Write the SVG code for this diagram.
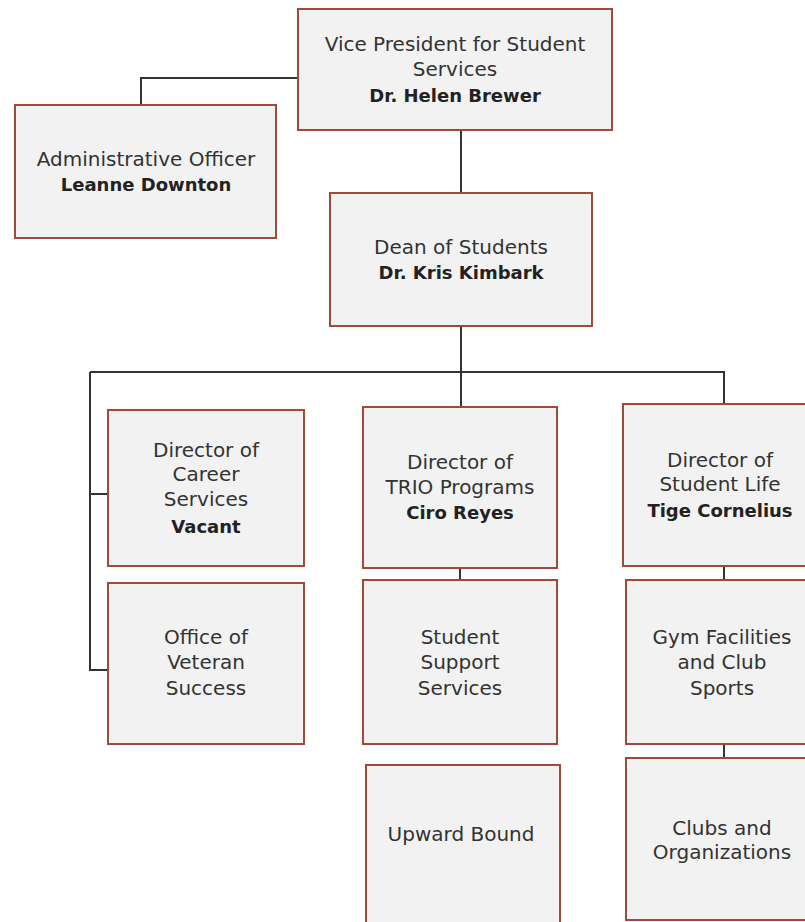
<svg xmlns="http://www.w3.org/2000/svg" width="805" height="922" viewBox="0 0 805 922">
<style>
.box{fill:#f2f2f2;stroke:#a04b38;stroke-width:2}
.ln{fill:none;stroke:#333;stroke-width:2}
text{font-family:"DejaVu Sans","Liberation Sans",sans-serif;font-size:20px;fill:#333;text-anchor:middle}
.b{font-weight:bold;font-size:18px;fill:#222}
</style>
<rect width="805" height="922" fill="#fff"/>
<g id="connectors">
<path class="ln" d="M298 78H141V105"/>
<path class="ln" d="M461 130V193"/>
<path class="ln" d="M461 326V407"/>
<path class="ln" d="M90 372H724V404"/>
<path class="ln" d="M90 372V670H108"/>
<path class="ln" d="M90 494H108"/>
<path class="ln" d="M460 568V580"/>
<path class="ln" d="M724 566V580"/>
<path class="ln" d="M724 744V758"/>
</g>
<g id="vp"><rect class="box" x="298" y="9" width="314" height="121"/>
<text x="455" y="51">Vice President for Student</text><text x="455" y="76">Services</text><text class="b" x="455" y="102">Dr. Helen Brewer</text></g>
<g id="admin"><rect class="box" x="15" y="105" width="261" height="133"/>
<text x="146" y="166">Administrative Officer</text><text class="b" x="146" y="191">Leanne Downton</text></g>
<g id="dean"><rect class="box" x="330" y="193" width="262" height="133"/>
<text x="461" y="254">Dean of Students</text><text class="b" x="461" y="279">Dr. Kris Kimbark</text></g>
<g id="career"><rect class="box" x="108" y="410" width="196" height="156"/>
<text x="206" y="457">Director of</text><text x="206" y="481">Career</text><text x="206" y="506">Services</text><text class="b" x="206" y="533">Vacant</text></g>
<g id="veteran"><rect class="box" x="108" y="583" width="196" height="161"/>
<text x="206" y="644">Office of</text><text x="206" y="669">Veteran</text><text x="206" y="695">Success</text></g>
<g id="trio"><rect class="box" x="363" y="407" width="194" height="161"/>
<text x="460" y="469">Director of</text><text x="460" y="494">TRIO Programs</text><text class="b" x="460" y="519">Ciro Reyes</text></g>
<g id="sss"><rect class="box" x="363" y="580" width="194" height="164"/>
<text x="460" y="644">Student</text><text x="460" y="669">Support</text><text x="460" y="695">Services</text></g>
<g id="upward"><rect class="box" x="366" y="765" width="194" height="170"/>
<text x="461" y="841">Upward Bound</text></g>
<g id="studentlife"><rect class="box" x="623" y="404" width="196" height="162"/>
<text x="720" y="467">Director of</text><text x="720" y="491">Student Life</text><text class="b" x="720" y="517">Tige Cornelius</text></g>
<g id="gym"><rect class="box" x="626" y="580" width="196" height="164"/>
<text x="722" y="644">Gym Facilities</text><text x="722" y="669">and Club</text><text x="722" y="695">Sports</text></g>
<g id="clubs"><rect class="box" x="626" y="758" width="196" height="162"/>
<text x="722" y="835">Clubs and</text><text x="722" y="859">Organizations</text></g>
</svg>
